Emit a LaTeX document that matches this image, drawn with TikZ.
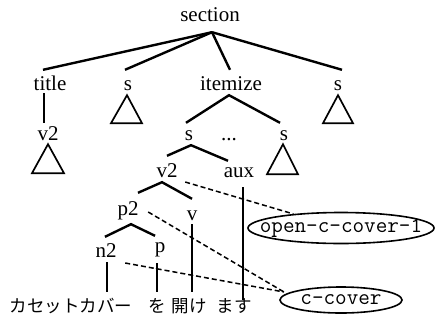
\documentclass[tikz,border=0pt]{standalone}
\usepackage{fontspec}
\setmainfont{Liberation Serif}
\newfontfamily\jafont{Noto Sans CJK JP}
\usetikzlibrary{shapes.geometric,intersections}

\begin{document}
\begin{tikzpicture}[x=1pt,y=-1pt,
  lbl/.style={inner sep=0pt, anchor=base, text height=14pt, text depth=4pt,
              font=\fontsize{21}{21}\selectfont},
  word/.style={inner sep=0pt, anchor=base, text height=20pt, text depth=4pt,
               font=\jafont\fontsize{17.5}{17.5}\selectfont},
  branch/.style={line width=2.4pt},
  stem/.style={line width=2pt},
  tri/.style={line width=1.7pt, line join=miter},
  link/.style={line width=1.5pt, dash pattern=on 5pt off 3pt},
  tag/.style={ellipse, draw, line width=1.6pt, inner sep=0pt,
              font=\ttfamily\fontsize{22.5}{22.5}\selectfont},
  knot/.style={radius=1.4pt}]

\useasboundingbox (0,0) rectangle (435,321);

% tree labels
\node[lbl] (section) at (210,22)  {section};
\node[lbl] (title)   at (50,90)   {title};
\node[lbl] (s1)      at (128,90)  {s};
\node[lbl] (itemize) at (231,90)  {itemize};
\node[lbl] (s3)      at (338,90)  {s};
\node[lbl] (v2a)     at (48,140)  {v2};
\node[lbl] (sa)      at (189,140) {s};
\node[lbl] (dots)    at (229,140) {...};
\node[lbl] (sb)      at (284,140) {s};
\node[lbl] (v2b)     at (167,177) {v2};
\node[lbl] (aux)     at (239,177) {aux};
\node[lbl] (p2)      at (128,215) {p2};
\node[lbl] (v)       at (192,220) {v};
\node[lbl] (n2)      at (106,257) {n2};
\node[lbl] (p)       at (160,252) {p};

% Japanese words under the leaves
\node[word] (w1) at (71,312)  {カセットカバー};
\node[word] (w2) at (157,312) {を};
\node[word] (w3) at (189,312) {開け};
\node[word] (w4) at (234,312) {ます};

% concept tags
\node[tag, minimum width=186pt, minimum height=31pt] (oc1) at (341,228)
  {\makebox[0pt]{open-c-cover-1}};
\node[tag, minimum width=122pt, minimum height=26pt] (cc) at (341,300)
  {\makebox[0pt]{c-cover}};

% section level
\draw[branch] ([shift={(2pt,-6pt)}]section.south) -- ([shift={(-7pt,6pt)}]title.north);
\draw[branch] ([shift={(2pt,-6pt)}]section.south) -- ([shift={(-3pt,6pt)}]s1.north);
\draw[branch] ([shift={(2pt,-6pt)}]section.south) -- ([shift={(-1pt,6pt)}]itemize.north);
\draw[branch] ([shift={(2pt,-6pt)}]section.south) -- ([shift={(4pt,6pt)}]s3.north);

\draw[stem] ([shift={(-6pt,1pt)}]title.south) -- ([shift={(-4pt,3pt)}]v2a.north);

% collapsed subtrees
\draw[tri] ([shift={(-1pt,-1pt)}]s1.south) -- ++(-16,28) -- ++(31,0) -- cycle;
\draw[tri] ([yshift=-1pt]s3.south) -- ++(-15,28) -- ++(30,0) -- cycle;
\draw[tri] (v2a.south) -- ++(-16,29) -- ++(32,0) -- cycle;
\draw[tri] ([xshift=-1pt]sb.south) -- ++(-16,30) -- ++(31,0) -- cycle;

% itemize and below
\draw[branch] ([shift={(-3pt,3pt)}]sa.north) -- ([shift={(-2pt,-1pt)}]itemize.south)
  -- ([shift={(-4pt,3pt)}]sb.north);
\draw[branch] ([shift={(0pt,7pt)}]v2b.north) -- ([shift={(2pt,-1pt)}]sa.south)
  -- ([shift={(-11pt,2pt)}]aux.north);
\draw[branch] ([shift={(10pt,8pt)}]p2.north) -- ([shift={(-5pt,-1pt)}]v2b.south)
  -- ([shift={(0pt,7pt)}]v.north);
\draw[branch] ([shift={(-1pt,6pt)}]n2.north) -- ([shift={(3pt,-5pt)}]p2.south)
  -- ([shift={(-5pt,2pt)}]p.north);

% leaves down to the words
\draw[stem, name path=vn2] ([shift={(1pt,-1pt)}]n2.south) -- ([xshift=1pt]n2.south |- w1.north);
\draw[stem, name path=vp] ([shift={(-3pt,-7pt)}]p.south) -- ([xshift=-3pt]p.south |- w2.north);
\draw[stem, name path=vv] (v.south) -- (v.south |- w3.north);
\draw[stem, name path=vaux] ([shift={(4pt,-6pt)}]aux.south) -- ([shift={(4pt,-8pt)}]aux.south |- w4.north);

% links to the concepts
\draw[link, name path=d1] ([shift={(7.5pt,-10pt)}]v2b.east) -- (oc1);
\draw[link, name path=d2] ([shift={(9.5pt,-2pt)}]p2.east) -- ([shift={(-57pt,8pt)}]cc.center);
\draw[link, name path=d3] ([shift={(8.5pt,-11pt)}]n2.east) -- ([shift={(-57pt,8pt)}]cc.center);

% crossing marks
\fill[name intersections={of=d1 and vaux}] (intersection-1) circle[knot];
\fill[name intersections={of=d2 and vv}] (intersection-1) circle[knot];
\fill[name intersections={of=d2 and vaux}] (intersection-1) circle[knot];
\fill[name intersections={of=d3 and vp}] (intersection-1) circle[knot];
\fill[name intersections={of=d3 and vv}] (intersection-1) circle[knot];
\fill[name intersections={of=d3 and vaux}] (intersection-1) circle[knot];
\end{tikzpicture}
\end{document}
